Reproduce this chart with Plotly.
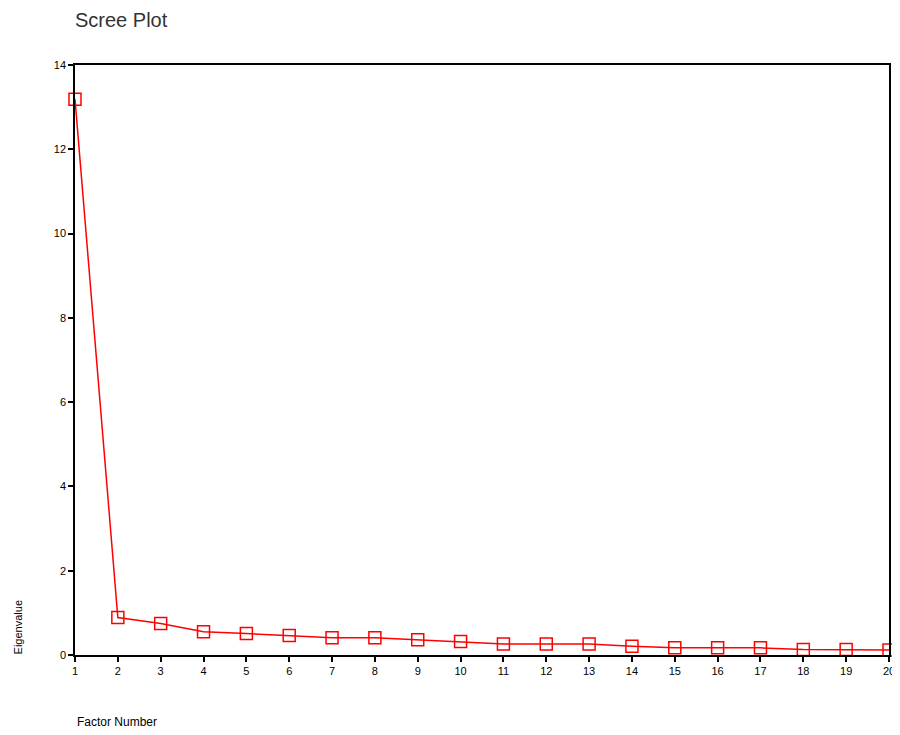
import plotly.graph_objects as go

factors = list(range(1, 21))
eigenvalues = [13.19, 0.89, 0.75, 0.55, 0.51, 0.46, 0.41, 0.41, 0.36, 0.32,
               0.26, 0.26, 0.26, 0.21, 0.17, 0.17, 0.17, 0.13, 0.13, 0.12]
x_ticks = list(range(1, 21))
y_ticks = [0, 2, 4, 6, 8, 10, 12, 14]

fig = go.Figure()
fig.add_trace(go.Scatter(
    x=factors, y=eigenvalues, mode="lines+markers",
    line=dict(color="#ff0000", width=1.5),
    marker=dict(symbol="square-open", size=12, color="#ff0000", line=dict(width=1.5)),
    cliponaxis=False, showlegend=False,
))

axis_common = dict(showgrid=False, zeroline=False, showline=True, linecolor="black",
                   linewidth=1.5, mirror=True, ticks="outside", ticklen=5,
                   tickcolor="black", tickwidth=1.5,
                   tickfont=dict(family="Liberation Sans, Arial", size=11, color="black"))

# the page body has an 8px margin; the figure is sized so the plot lands where the reference has it
W, H = 892, 727
L, R, T, B = 67, 5, 57, 80
PW, PH = W - L - R, H - T - B

fig.update_layout(
    width=W, height=H,
    margin=dict(l=L, r=R, t=T, b=B),
    paper_bgcolor="white", plot_bgcolor="white",
    title=dict(text="Scree Plot", x=67/W, xanchor="left", y=1-12/H, yanchor="middle",
               font=dict(family="Liberation Sans, Arial", size=20, color="#333333")),
    xaxis=dict(range=[1, 20], tickvals=x_ticks, ticktext=[str(v) for v in x_ticks], **axis_common),
    yaxis=dict(range=[0, 14], tickvals=y_ticks, ticktext=[str(v) for v in y_ticks], **axis_common),
    annotations=[
        dict(text="Eigenvalue", xref="paper", yref="paper", x=(10-L)/PW, y=28/PH,
             xanchor="center", yanchor="middle", textangle=-90, showarrow=False,
             font=dict(family="Liberation Sans, Arial", size=11, color="black")),
        dict(text="Factor Number", xref="paper", yref="paper", x=0, y=-67/PH,
             xanchor="left", yanchor="middle", showarrow=False,
             font=dict(family="Liberation Sans, Arial", size=12, color="black")),
    ],
)

fig.write_html("out.html")
